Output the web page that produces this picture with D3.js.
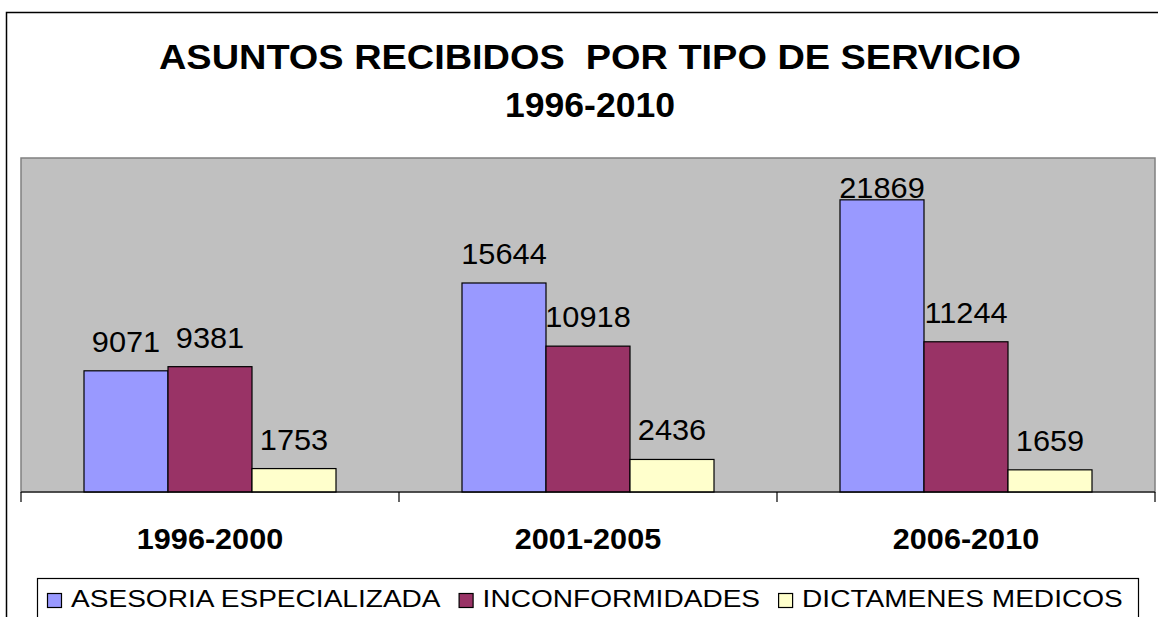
<!DOCTYPE html>
<html>
<head>
<meta charset="utf-8">
<script src="https://cdn.jsdelivr.net/npm/d3@7"></script>
<style>
  html, body { margin: 0; padding: 0; background: #fff; }
  svg { display: block; font-family: "Liberation Sans", Arial, sans-serif; }
</style>
</head>
<body>
<div id="chart"></div>
<script>
// chart values
const categories = ['1996-2000', '2001-2005', '2006-2010'];
const seriesNames = ['ASESORIA ESPECIALIZADA', 'INCONFORMIDADES', 'DICTAMENES MEDICOS'];
const seriesColors = ['#9999ff', '#993366', '#ffffcc'];
const asesoria = [9071, 15644, 21869];
const inconformidades = [9381, 10918, 11244];
const dictamenes = [1753, 2436, 1659];
const yMax = 25000;
const titleLines = ['ASUNTOS RECIBIDOS  POR TIPO DE SERVICIO', '1996-2010'];

const seriesValues = [asesoria, inconformidades, dictamenes];

const width = 1158, height = 617;
const plot = { left: 21, right: 1155, top: 158, bottom: 492 };

// the original text is drawn a bit wider than the font's own metrics
function stretch(sel, factor) {
  sel.each(function () {
    const len = this.getComputedTextLength();
    d3.select(this)
      .attr('textLength', len * factor)
      .attr('lengthAdjust', 'spacingAndGlyphs');
  });
}

const svg = d3.select('#chart')
  .append('svg')
  .attr('width', width)
  .attr('height', height);

// outer chart frame
svg.append('rect')
  .attr('x', 6.5).attr('y', 12.5)
  .attr('width', 1160).attr('height', 620)
  .attr('fill', '#fff')
  .attr('stroke', '#000')
  .attr('stroke-width', 1.5);

// title
const titleWidths = [862, 170];
svg.append('g')
  .selectAll('text')
  .data(titleLines)
  .join('text')
  .attr('x', 590)
  .attr('y', (d, i) => 69 + i * 48)
  .attr('text-anchor', 'middle')
  .attr('font-size', 35)
  .attr('font-weight', 'bold')
  .attr('fill', '#000')
  .style('white-space', 'pre')
  .text(d => d)
  .attr('textLength', (d, i) => titleWidths[i])
  .attr('lengthAdjust', 'spacingAndGlyphs');

// plot area
svg.append('rect')
  .attr('x', plot.left).attr('y', plot.top)
  .attr('width', plot.right - plot.left)
  .attr('height', plot.bottom - plot.top)
  .attr('fill', '#c0c0c0')
  .attr('stroke', '#808080')
  .attr('stroke-width', 1.5);

const x0 = d3.scaleBand()
  .domain(categories)
  .range([plot.left, plot.right]);

const x1 = d3.scaleBand()
  .domain(seriesNames)
  .range([0, x0.bandwidth()])
  .paddingOuter(0.75);

const y = d3.scaleLinear()
  .domain([0, yMax])
  .range([plot.bottom, plot.top]);

const rows = [];
categories.forEach((c, ci) => {
  seriesNames.forEach((s, si) => {
    rows.push({ cat: c, series: s, si, value: seriesValues[si][ci] });
  });
});

const bars = svg.append('g');
bars.selectAll('rect')
  .data(rows)
  .join('rect')
  .attr('x', d => x0(d.cat) + x1(d.series))
  .attr('y', d => y(d.value))
  .attr('width', x1.bandwidth())
  .attr('height', d => y(0) - y(d.value))
  .attr('fill', d => seriesColors[d.si])
  .attr('stroke', '#000')
  .attr('stroke-width', 1.2);

// value labels, kept inside the plot area
svg.append('g')
  .selectAll('text')
  .data(rows)
  .join('text')
  .attr('x', d => x0(d.cat) + x1(d.series) + x1.bandwidth() / 2)
  .attr('y', d => Math.max(y(d.value) - 19, plot.top + 40))
  .attr('text-anchor', 'middle')
  .attr('font-size', 29)
  .attr('fill', '#000')
  .text(d => d.value)
  .call(stretch, 1.06);

// category axis
const xAxis = svg.append('g')
  .attr('transform', `translate(0,${plot.bottom})`);

xAxis.append('line')
  .attr('x1', plot.left).attr('x2', plot.right)
  .attr('stroke', '#000').attr('stroke-width', 1.2);

const tickPos = categories.map(c => x0(c)).concat([plot.right]);
xAxis.selectAll('line.tick')
  .data(tickPos)
  .join('line')
  .attr('class', 'tick')
  .attr('x1', d => d).attr('x2', d => d)
  .attr('y1', 0).attr('y2', 10)
  .attr('stroke', '#000').attr('stroke-width', 1.2);

xAxis.selectAll('text')
  .data(categories)
  .join('text')
  .attr('x', d => x0(d) + x0.bandwidth() / 2)
  .attr('y', 57)
  .attr('text-anchor', 'middle')
  .attr('font-size', 30)
  .attr('font-weight', 'bold')
  .attr('fill', '#000')
  .text(d => d)
  .call(stretch, 1.02);

// legend
const legend = svg.append('g');
legend.append('rect')
  .attr('x', 37.5).attr('y', 578.5)
  .attr('width', 1101).attr('height', 60)
  .attr('fill', '#fff')
  .attr('stroke', '#000')
  .attr('stroke-width', 1.2);

let lx = 47;
seriesNames.forEach((name, i) => {
  legend.append('rect')
    .attr('x', lx + 0.5).attr('y', 593.5)
    .attr('width', 14).attr('height', 14)
    .attr('fill', seriesColors[i])
    .attr('stroke', '#000')
    .attr('stroke-width', 1.2);
  const t = legend.append('text')
    .attr('x', lx + 24)
    .attr('y', 607)
    .attr('font-size', 23)
    .attr('fill', '#000')
    .text(name);
  const len = t.node().getComputedTextLength() * 1.22;
  t.attr('textLength', len).attr('lengthAdjust', 'spacingAndGlyphs');
  lx += 24 + len + 18;
});
</script>
</body>
</html>
